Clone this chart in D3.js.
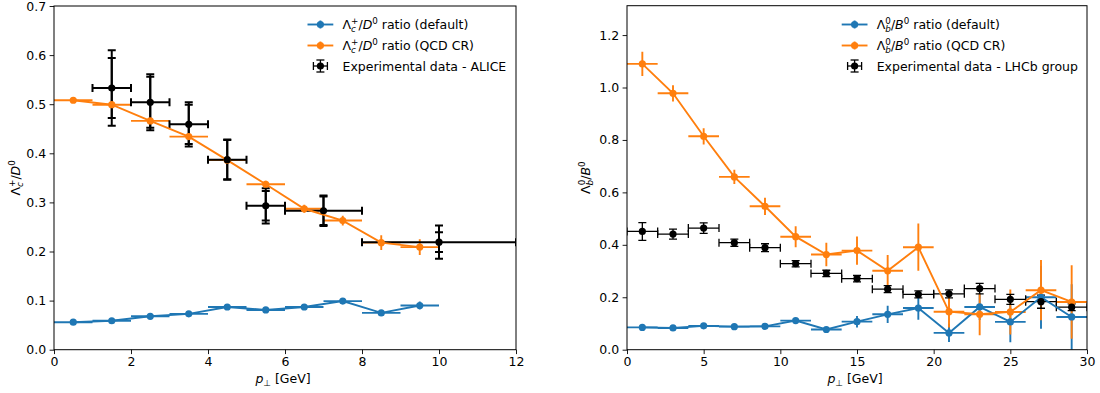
<!DOCTYPE html>
<html>
<head>
<meta charset="utf-8">
<script src="https://cdn.jsdelivr.net/npm/d3@7"></script>
<style>
body { margin: 0; background: #fff; }
text { font-family: "DejaVu Sans", sans-serif; }
</style>
</head>
<body>
<div id="chart"></div>
<script>

// ---- Lambda_c / D0 (left panel) ----
var lcBins      = [0.5, 1.5, 2.5, 3.5, 4.5, 5.5, 6.5, 7.5, 8.5, 9.5];
var lcBinErr    = [0.5, 0.5, 0.5, 0.5, 0.5, 0.5, 0.5, 0.5, 0.5, 0.5];
var lcDefault   = [0.056, 0.059, 0.068, 0.073, 0.087, 0.081, 0.087, 0.099, 0.075, 0.090];
var lcDefaultErr= [0.003, 0.003, 0.003, 0.003, 0.004, 0.004, 0.004, 0.005, 0.006, 0.008];
var lcQcd       = [0.508, 0.499, 0.466, 0.434, 0.386, 0.337, 0.287, 0.263, 0.218, 0.209];
var lcQcdErr    = [0.004, 0.004, 0.005, 0.005, 0.006, 0.007, 0.008, 0.010, 0.015, 0.016];

var aliceX      = [1.5, 2.5, 3.5, 4.5, 5.5, 7, 10];
var aliceXErr   = [0.5, 0.5, 0.5, 0.5, 0.5, 1, 2];
var aliceY      = [0.533, 0.504, 0.459, 0.387, 0.293, 0.283, 0.219];
var aliceStat   = [0.061, 0.052, 0.040, 0.040, 0.030, 0.029, 0.020];
var aliceSyst   = [0.077, 0.057, 0.045, 0.041, 0.036, 0.031, 0.034];

// ---- Lambda_b / B0 (right panel) ----
var lbBins      = [1, 3, 5, 7, 9, 11, 13, 15, 17, 19, 21, 23, 25, 27, 29];
var lbBinErr    = [1, 1, 1, 1, 1, 1, 1, 1, 1, 1, 1, 1, 1, 1, 1];
var lbDefault   = [0.085, 0.083, 0.091, 0.088, 0.089, 0.111, 0.077, 0.107, 0.135, 0.159, 0.064, 0.163, 0.106, 0.200, 0.125];
var lbDefaultErr= [0.005, 0.005, 0.005, 0.005, 0.006, 0.009, 0.008, 0.022, 0.033, 0.045, 0.035, 0.050, 0.078, 0.120, 0.125];
var lbQcd       = [1.090, 0.978, 0.814, 0.659, 0.547, 0.431, 0.363, 0.378, 0.301, 0.391, 0.145, 0.135, 0.144, 0.227, 0.182];
var lbQcdErr    = [0.046, 0.031, 0.031, 0.027, 0.033, 0.040, 0.045, 0.054, 0.060, 0.090, 0.060, 0.080, 0.086, 0.115, 0.140];

var lhcbY       = [0.451, 0.441, 0.464, 0.408, 0.389, 0.328, 0.291, 0.271, 0.231, 0.211, 0.213, 0.233, 0.192, 0.183, 0.162];
var lhcbErr     = [0.034, 0.019, 0.020, 0.014, 0.015, 0.012, 0.012, 0.012, 0.013, 0.013, 0.015, 0.020, 0.019, 0.025, 0.013];

var lcTicksX = [0, 2, 4, 6, 8, 10, 12];
var lcTicksY = [0.0, 0.1, 0.2, 0.3, 0.4, 0.5, 0.6, 0.7];
var lbTicksX = [0, 5, 10, 15, 20, 25, 30];
var lbTicksY = [0.0, 0.2, 0.4, 0.6, 0.8, 1.0, 1.2];

var BLUE = "#1f77b4", ORANGE = "#ff7f0e";
var FS = 12.5, SMALL = 8.75;

var svg = d3.select("#chart").append("svg")
    .attr("width", 1100)
    .attr("height", 393);

// write a mathtext-like label into a text element
function mathText(t, parts) {
    parts.forEach(function(p) {
        var s = t.append("tspan").text(p.t)
            .attr("font-size", p.small ? SMALL : FS);
        if (p.it) s.attr("font-style", "italic");
        if (p.dx) s.attr("dx", p.dx);
        if (p.dy) s.attr("dy", p.dy);
    });
}

var lcLabel = [
    {t: "\u039B"}, {t: "c", it: true, small: true, dy: 2.8},
    {t: "+", small: true, dx: -4.8, dy: -7.8},
    {t: "/", dy: 5}, {t: "D", it: true}, {t: "0", small: true, dy: -5}
];
var lbLabel = [
    {t: "\u039B"}, {t: "b", it: true, small: true, dy: 2.8},
    {t: "0", small: true, dx: -5.5, dy: -7.8},
    {t: "/", dy: 5}, {t: "B", it: true}, {t: "0", small: true, dy: -5}
];
var ptLabel = [{t: "p", it: true}, {t: "\u22A5", small: true, dy: 2.8}, {t: " [GeV]", dy: -2.8}];


function drawPanel(p) {
    var x = d3.scaleLinear().domain([0, p.xMax]).range([p.left, p.right]);
    var y = d3.scaleLinear().domain([0, p.yMax]).range([p.bottom, p.top]);

    var g = svg.append("g");

    g.append("clipPath").attr("id", p.id + "-clip")
        .append("rect")
        .attr("x", p.left).attr("y", p.top)
        .attr("width", p.right - p.left).attr("height", p.bottom - p.top);

    var plot = g.append("g").attr("clip-path", "url(#" + p.id + "-clip)");
    var errLayer = plot.append("g");
    var lineLayer = plot.append("g");

    function errorbars(xs, ys, xerr, yerr, color, lw, cap) {
        var idx = d3.range(xs.length);
        var eg = errLayer.append("g").attr("stroke", color).attr("stroke-width", lw);
        if (yerr) {
            eg.selectAll(null).data(idx).join("line")
                .attr("x1", i => x(xs[i])).attr("x2", i => x(xs[i]))
                .attr("y1", i => y(ys[i] - yerr[i])).attr("y2", i => y(ys[i] + yerr[i]));
            if (cap) {
                [-1, 1].forEach(function(sg) {
                    eg.selectAll(null).data(idx).join("line")
                        .attr("x1", i => x(xs[i]) - cap).attr("x2", i => x(xs[i]) + cap)
                        .attr("y1", i => y(ys[i] + sg * yerr[i])).attr("y2", i => y(ys[i] + sg * yerr[i]));
                });
            }
        }
        if (xerr) {
            eg.selectAll(null).data(idx).join("line")
                .attr("x1", i => x(xs[i] - xerr[i])).attr("x2", i => x(xs[i] + xerr[i]))
                .attr("y1", i => y(ys[i])).attr("y2", i => y(ys[i]));
            if (cap) {
                [-1, 1].forEach(function(sg) {
                    eg.selectAll(null).data(idx).join("line")
                        .attr("x1", i => x(xs[i] + sg * xerr[i])).attr("x2", i => x(xs[i] + sg * xerr[i]))
                        .attr("y1", i => y(ys[i]) - cap).attr("y2", i => y(ys[i]) + cap);
                });
            }
        }
    }

    // model curves
    p.series.forEach(function(s) {
        errorbars(p.bins, s.y, p.binErr, s.err, s.color, 1.9, 0);
        lineLayer.append("path")
            .attr("fill", "none").attr("stroke", s.color).attr("stroke-width", 1.9)
            .attr("d", d3.line().x((d, i) => x(p.bins[i])).y(d => y(d))(s.y));
        lineLayer.selectAll(null).data(s.y).join("circle")
            .attr("cx", (d, i) => x(p.bins[i])).attr("cy", d => y(d))
            .attr("r", 3.6).attr("fill", s.color);
    });

    // experimental points
    var e = p.exp;
    e.errs.forEach(function(er, k) {
        errorbars(e.x, e.y, k == 0 ? e.xerr : null, er, "#000", e.lw, 4);
    });
    lineLayer.selectAll(null).data(e.y).join("circle")
        .attr("cx", (d, i) => x(e.x[i])).attr("cy", d => y(d))
        .attr("r", 3.6).attr("fill", "#000");

    // axes
    var xAxis = d3.axisBottom(x).tickValues(p.xTicks).tickFormat(d3.format("d"))
        .tickSize(4.4).tickPadding(3.5).tickSizeOuter(0);
    var yAxis = d3.axisLeft(y).tickValues(p.yTicks).tickFormat(d3.format(".1f"))
        .tickSize(4.4).tickPadding(3.5).tickSizeOuter(0);

    [g.append("g").attr("transform", "translate(0," + p.bottom + ")").call(xAxis),
     g.append("g").attr("transform", "translate(" + p.left + ",0)").call(yAxis)]
        .forEach(function(a) {
            a.select(".domain").remove();
            a.selectAll("line").attr("stroke", "#000").attr("stroke-width", 0.9);
            a.selectAll("text").attr("fill", "#000")
                .attr("font-size", FS).attr("font-family", "DejaVu Sans");
        });

    g.append("rect")
        .attr("x", p.left).attr("y", p.top)
        .attr("width", p.right - p.left).attr("height", p.bottom - p.top)
        .attr("fill", "none").attr("stroke", "#000").attr("stroke-width", 1);

    // axis labels
    var xl = g.append("text")
        .attr("x", (p.left + p.right) / 2 - 2).attr("y", 383)
        .attr("text-anchor", "middle").attr("font-size", FS);
    mathText(xl, ptLabel);

    var yl = g.append("text")
        .attr("transform", "translate(" + p.ylabelX + "," + ((p.top + p.bottom) / 2) + ") rotate(-90)")
        .attr("text-anchor", "middle").attr("font-size", FS);
    mathText(yl, p.ylabel);

    // legend
    var L = p.legend;
    var rows = [24.5, 45.5, 66];
    var lg = g.append("g");
    p.series.forEach(function(s, i) {
        var cy = rows[i], mid = L.x0 + 12.9;
        lg.append("line").attr("x1", L.x0).attr("x2", L.x0 + 25.8)
            .attr("y1", cy).attr("y2", cy)
            .attr("stroke", s.color).attr("stroke-width", 1.9);
        lg.append("line").attr("x1", mid).attr("x2", mid)
            .attr("y1", cy - 4).attr("y2", cy + 4)
            .attr("stroke", s.color).attr("stroke-width", 1.9);
        lg.append("circle").attr("cx", mid).attr("cy", cy).attr("r", 3.6).attr("fill", s.color);
        var t = lg.append("text").attr("x", L.x0 + 35).attr("y", cy + 4.6).attr("font-size", FS);
        mathText(t, p.ylabel.concat([{t: " ratio (" + s.name + ")", dy: 5}]));
    });
    var cy = rows[2], mid = L.x0 + 12.9;
    var eg = lg.append("g").attr("stroke", "#000").attr("stroke-width", 1.3);
    eg.append("line").attr("x1", mid - 7).attr("x2", mid + 7).attr("y1", cy).attr("y2", cy);
    eg.append("line").attr("x1", mid).attr("x2", mid).attr("y1", cy - 6).attr("y2", cy + 6);
    [-1, 1].forEach(function(sg) {
        eg.append("line").attr("x1", mid + sg * 7).attr("x2", mid + sg * 7).attr("y1", cy - 4).attr("y2", cy + 4);
        eg.append("line").attr("x1", mid - 4).attr("x2", mid + 4).attr("y1", cy + sg * 6).attr("y2", cy + sg * 6);
    });
    lg.append("circle").attr("cx", mid).attr("cy", cy).attr("r", 3.6).attr("fill", "#000");
    lg.append("text").attr("x", L.x0 + 35).attr("y", cy + 4.6).attr("font-size", FS)
        .text(e.name);
}

drawPanel({
    id: "lc", left: 54, right: 516, top: 6, bottom: 349.7,
    xMax: 12, yMax: 0.7, xTicks: lcTicksX, yTicks: lcTicksY,
    bins: lcBins, binErr: lcBinErr,
    series: [
        {name: "default", y: lcDefault, err: lcDefaultErr, color: BLUE},
        {name: "QCD CR", y: lcQcd, err: lcQcdErr, color: ORANGE}
    ],
    exp: {name: "Experimental data - ALICE", x: aliceX, xerr: aliceXErr, y: aliceY,
          errs: [aliceStat, aliceSyst], lw: 2},
    ylabel: lcLabel, ylabelX: 20,
    legend: {x0: 307.5}
});

drawPanel({
    id: "lb", left: 627, right: 1087, top: 5.7, bottom: 349.7,
    xMax: 30, yMax: 1.312, xTicks: lbTicksX, yTicks: lbTicksY,
    bins: lbBins, binErr: lbBinErr,
    series: [
        {name: "default", y: lbDefault, err: lbDefaultErr, color: BLUE},
        {name: "QCD CR", y: lbQcd, err: lbQcdErr, color: ORANGE}
    ],
    exp: {name: "Experimental data - LHCb group", x: lbBins, xerr: lbBinErr, y: lhcbY,
          errs: [lhcbErr], lw: 1.3},
    ylabel: lbLabel, ylabelX: 590,
    legend: {x0: 841.7}
});

</script>
</body>
</html>
